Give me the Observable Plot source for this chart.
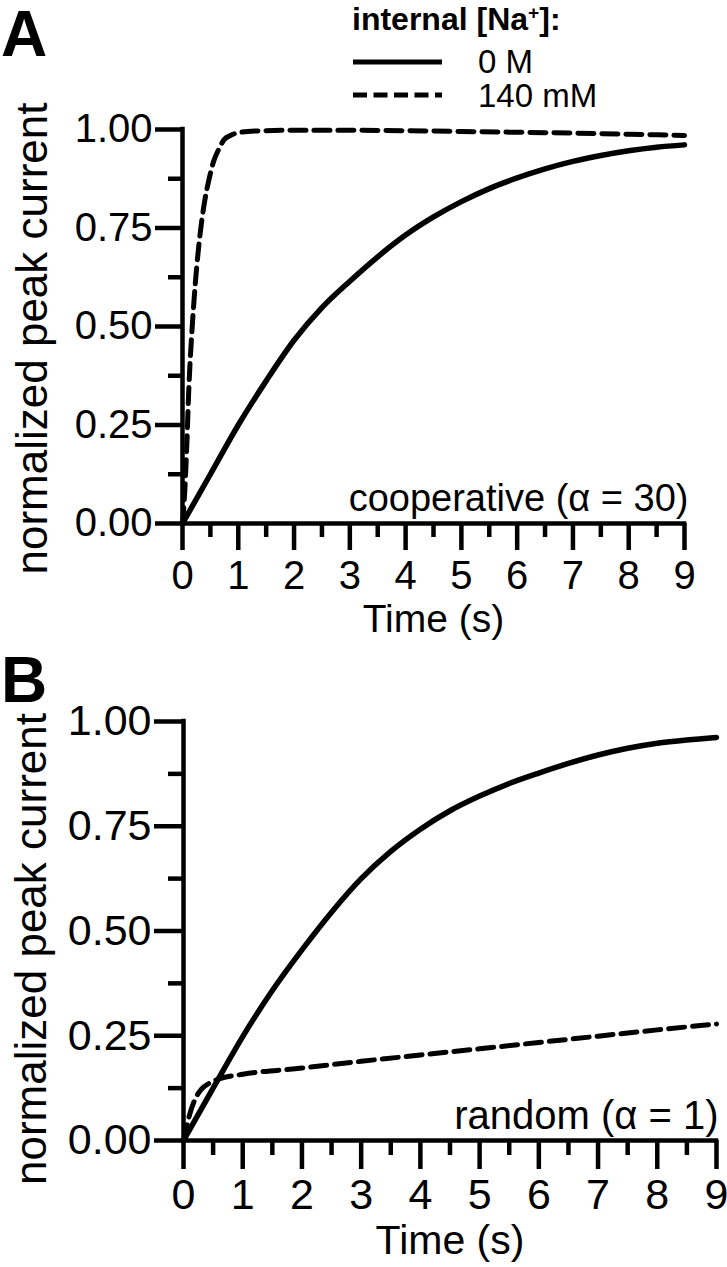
<!DOCTYPE html>
<html>
<head>
<meta charset="utf-8">
<script src="https://cdn.jsdelivr.net/npm/d3@7"></script>
<script src="https://cdn.jsdelivr.net/npm/@observablehq/plot@0.6"></script>
<style>
  html, body { margin: 0; padding: 0; background: #fff; }
  body { width: 727px; height: 1267px; position: relative; overflow: hidden;
         font-family: "Liberation Sans", Arial, Helvetica, sans-serif; color: #000; }
  .abs { position: absolute; }
  .letter { font-weight: bold; font-size: 64px; line-height: 1; }
  .legtitle { font-weight: bold; font-size: 32px; line-height: 1; white-space: nowrap; }
  .legtxt { font-size: 33px; line-height: 1; white-space: nowrap; }
  sup { font-size: 0.6em; vertical-align: 0.55em; line-height: 0; }
</style>
</head>
<body>
<div id="panelA" class="abs" style="left:0; top:105px;"></div>
<div id="panelB" class="abs" style="left:0; top:650px;"></div>

<div class="abs letter" style="left:1px; top:2px;">A</div>
<div class="abs letter" style="left:1px; top:648px;">B</div>

<div class="abs legtitle" style="left:352px; top:3px;">internal [Na<sup>+</sup>]:</div>
<svg class="abs" style="left:350px; top:50px;" width="100" height="60">
  <line x1="3" x2="92" y1="12" y2="12" stroke="#000" stroke-width="5"/>
  <line x1="3" x2="92" y1="45" y2="45" stroke="#000" stroke-width="5" stroke-dasharray="14,6.5"/>
</svg>
<div class="abs legtxt" style="left:478px; top:45px;">0 M</div>
<div class="abs legtxt" style="left:478px; top:79px;">140 mM</div>

<script>
// ---------- data ----------
const seriesNames = ["0 M", "140 mM"];
const xTicks = [0, 1, 2, 3, 4, 5, 6, 7, 8, 9];
const xMinorTicks = [0.5, 1.5, 2.5, 3.5, 4.5, 5.5, 6.5, 7.5, 8.5];
const yTicks = [0, 0.25, 0.5, 0.75, 1];
const yMinorTicks = [0.125, 0.375, 0.625, 0.875];

// Panel A: cooperative (alpha = 30)
const timeA0 = [0, 0.5, 1, 1.5, 2, 2.5, 3, 3.5, 4, 4.5, 5, 5.5, 6, 6.5, 7, 7.5, 8, 8.5, 9];
const currentA0 = [0, 0.125, 0.25, 0.362, 0.465, 0.548, 0.615, 0.677, 0.732, 0.778, 0.817, 0.85, 0.877, 0.9, 0.919, 0.934, 0.946, 0.955, 0.961];
const timeA140 = [0, 0.04, 0.08, 0.11, 0.14, 0.17, 0.23, 0.32, 0.4, 0.47, 0.56, 0.65, 0.75, 0.86, 1.0, 1.3, 2, 3, 4, 5, 6, 7, 8, 9];
const currentA140 = [0, 0.08, 0.21, 0.33, 0.42, 0.49, 0.61, 0.74, 0.82, 0.87, 0.92, 0.95, 0.975, 0.985, 0.992, 0.996, 0.998, 0.998, 0.997, 0.995, 0.993, 0.991, 0.988, 0.985];

// Panel B: random (alpha = 1)
const timeB0 = [0, 0.5, 1, 1.5, 2, 2.5, 3, 3.5, 4, 4.5, 5, 5.5, 6, 6.5, 7, 7.5, 8, 8.5, 9];
const currentB0 = [0, 0.125, 0.248, 0.358, 0.455, 0.545, 0.625, 0.69, 0.743, 0.787, 0.822, 0.852, 0.877, 0.9, 0.92, 0.936, 0.948, 0.956, 0.962];
const timeB140 = [0, 0.05, 0.1, 0.2, 0.3, 0.45, 0.6, 1, 2, 3, 4, 5, 6, 7, 8, 9];
const currentB140 = [0, 0.03, 0.06, 0.1, 0.122, 0.138, 0.147, 0.158, 0.173, 0.189, 0.204, 0.219, 0.234, 0.249, 0.264, 0.278];

const toRows = (ts, vs) => ts.map((t, i) => ({t, v: vs[i]}));

function panel(o) {
  const fs = o.fontSize;
  return Plot.plot({
    width: 727,
    height: o.height,
    marginLeft: o.left,
    marginRight: o.right,
    marginTop: o.top,
    marginBottom: o.bottom,
    style: {fontFamily: '"Liberation Sans", Arial, Helvetica, sans-serif', fontSize: fs + "px", color: "#000", background: "transparent", overflow: "visible"},
    x: {domain: [0, 9]},
    y: {domain: [0, 1]},
    marks: [
      // axes
      Plot.axisX({ticks: xTicks, tickSize: o.majorTick, tickPadding: o.xPad, strokeWidth: 4.5, label: null, tickFormat: d3.format("d"), fontSize: fs}),
      Plot.axisX({ticks: xMinorTicks, tickSize: o.minorTick, strokeWidth: 4.5, text: null, label: null}),
      Plot.axisY({ticks: yTicks, tickSize: o.majorTick, tickPadding: 3, strokeWidth: 4.5, label: null, tickFormat: d3.format(".2f"), fontSize: fs}),
      Plot.axisY({ticks: yMinorTicks, tickSize: o.minorTick, strokeWidth: 4.5, text: null, label: null}),
      Plot.ruleY([0], {strokeWidth: 4.5, strokeLinecap: "square"}),
      Plot.ruleX([0], {strokeWidth: 4.5, strokeLinecap: "square"}),
      // curves
      Plot.line(o.solid, {x: "t", y: "v", stroke: "#000", strokeWidth: 5.5, curve: "monotone-x"}),
      Plot.line(o.dashed, {x: "t", y: "v", stroke: "#000", strokeWidth: 5, strokeDasharray: o.dash, curve: "monotone-x"}),
      // labels
      Plot.text([o.yLabel], {frameAnchor: "left", rotate: -90, dx: o.yLabelDx, dy: o.yLabelDy, textAnchor: "middle", lineAnchor: "middle", fontSize: o.yLabelSize}),
      Plot.text([o.xLabel], {frameAnchor: "bottom", dy: o.xLabelDy, textAnchor: "middle", lineAnchor: "middle", fontSize: o.xLabelSize}),
      Plot.text([o.note], {frameAnchor: "bottom-right", dx: o.noteDx, dy: o.noteDy, textAnchor: "end", lineAnchor: "bottom", fontSize: o.noteSize})
    ]
  });
}

document.getElementById("panelA").append(panel({
  height: 545, left: 182, right: 43, top: 24, bottom: 127,
  fontSize: 40, yLabelSize: 44, xLabelSize: 39, noteSize: 38,
  majorTick: 27, minorTick: 14, xPad: 10,
  solid: toRows(timeA0, currentA0), dashed: toRows(timeA140, currentA140),
  dash: "16,8",
  yLabel: "normalized peak current", yLabelDx: -150, yLabelDy: 12,
  xLabel: "Time (s)", xLabelDy: 96,
  note: "cooperative (\u03B1 = 30)", noteDx: 4, noteDy: -13
}));

document.getElementById("panelB").append(panel({
  height: 617, left: 183, right: 11, top: 71, bottom: 127,
  fontSize: 43, yLabelSize: 44, xLabelSize: 41, noteSize: 40,
  majorTick: 29, minorTick: 15, xPad: 9,
  solid: toRows(timeB0, currentB0), dashed: toRows(timeB140, currentB140),
  dash: "16,8",
  yLabel: "normalized peak current", yLabelDx: -152, yLabelDy: 18,
  xLabel: "Time (s)", xLabelDy: 100,
  note: "random (\u03B1 = 1)", noteDx: 2, noteDy: -12
}));
</script>
</body>
</html>
